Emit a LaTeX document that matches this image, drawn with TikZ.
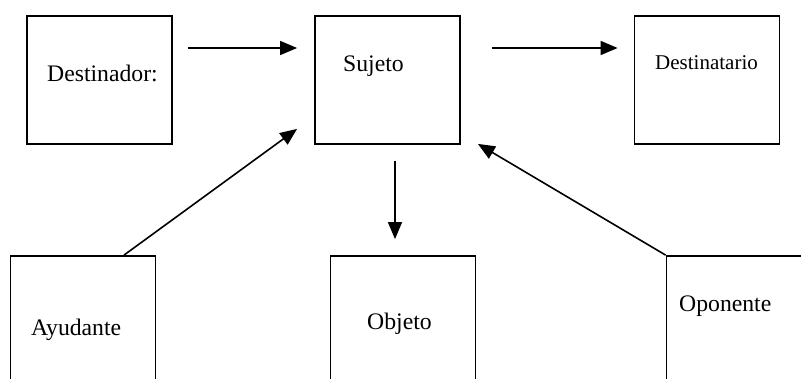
\documentclass[tikz,border=0pt]{standalone}
\usepackage{fontspec}
\setmainfont{Liberation Serif}
\usepackage{tikz}
\usetikzlibrary{arrows.meta}

\begin{document}
\begin{tikzpicture}[x=1pt,y=-1pt,
	caja/.style={draw, line width=1.8pt, minimum width=145pt, minimum height=128pt, inner sep=0pt},
	lbl/.style={inner sep=0pt, anchor=base west, font=\fontsize{23.7}{28}\selectfont},
	flecha/.style={line width=1.6pt, -{Triangle[length=17pt,width=14pt]}}]

	\useasboundingbox (0,0) rectangle (801,379);

	% cajas
	\node[caja] (des) at (99.5,80) {};
	\node[caja] (suj) at (387.5,80) {};
	\node[caja] (dst) at (707,80) {};
	\node[caja] (ayu) at (83,320) {};
	\node[caja] (obj) at (403,320) {};
	\node[caja] (opo) at (739,320) {};

	\node[lbl] (tdes) at (47,82) {Destinador:};
	\node[lbl] (tsuj) at (343,72) {Sujeto};
	\node[lbl, font=\fontsize{21}{25}\selectfont] (tdst) at (655,70) {Destinatario};
	\node[lbl] (tayu) at (31,336) {Ayudante};
	\node[lbl] (tobj) at (367,330) {Objeto};
	\node[lbl] (topo) at (679,312) {Oponente};

	% flechas
	\draw[flecha] ([xshift=15pt,yshift=32pt]des.east) -- ([xshift=-17pt,yshift=32pt]suj.west);
	\draw[flecha] ([xshift=31pt,yshift=32pt]suj.east) -- ([xshift=-16pt,yshift=32pt]dst.west);
	\draw[flecha] ([xshift=7.5pt,yshift=-16pt]suj.south) -- ([xshift=-8pt,yshift=16pt]obj.north);
	\draw[flecha] ([xshift=41pt]ayu.north) -- ([xshift=-17pt,yshift=16pt]suj.south west);
	\draw[flecha] (opo.north west) -- ([xshift=17pt,yshift=1pt]suj.south east);

\end{tikzpicture}
\end{document}
